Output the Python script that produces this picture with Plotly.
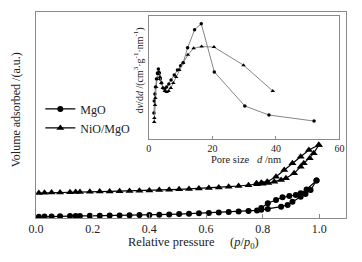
import plotly.graph_objects as go

# ---- main isotherm data (relative pressure, volume adsorbed a.u.) ----
p_mgo_ads = [0.01,0.03,0.055,0.085,0.12,0.14,0.155,0.19,0.225,0.26,0.295,0.33,0.365,0.40,
             0.435,0.47,0.505,0.54,0.575,0.61,0.645,0.68,0.715,0.75,0.78,0.795,0.818,
             0.865,0.888,0.905,0.934,0.951,0.969,0.99]
v_mgo_ads = [1.2,1.4,1.5,1.7,1.9,2.0,2.1,2.2,2.3,2.5,2.6,2.7,2.9,3.0,
             3.3,3.6,3.9,4.3,4.7,5.1,5.5,5.9,6.4,6.9,7.6,8.2,9.0,
             11.3,13.0,16.3,21.3,24.0,28.0,37.5]
p_mgo_des = [0.99,0.955,0.934,0.917,0.894,0.87,0.847,0.818,0.795]
v_mgo_des = [37.5,28.5,24.7,23.0,22.0,20.7,18.0,14.7,10.0]

p_nio_ads = [0.01,0.03,0.055,0.085,0.12,0.14,0.155,0.19,0.225,0.26,0.295,0.33,0.365,0.40,
             0.435,0.47,0.505,0.54,0.575,0.61,0.645,0.68,0.715,0.75,0.78,0.80,0.82,
             0.841,0.865,0.882,0.911,0.934,0.945,0.966,0.98,0.998]
v_nio_ads = [25.0,25.2,25.4,25.6,25.8,25.9,26.0,26.2,26.4,26.6,26.8,27.0,27.3,27.6,
             27.9,28.3,28.7,29.1,29.5,30.0,30.6,31.3,32.0,32.8,33.7,34.3,35.0,
             36.3,38.0,39.7,44.7,51.3,54.7,59.7,64.7,73.0]
p_nio_des = [0.998,0.963,0.934,0.905,0.876,0.847,0.816,0.795,0.778]
v_nio_des = [73.0,68.0,61.3,54.7,48.0,41.3,36.3,35.3,34.7]

# ---- inset pore size distribution ----
d_mgo = [1.6,1.7,1.9,2.1,2.4,2.7,3.0,3.3,3.6,4.0,4.5,5.0,5.6,6.3,7.0,8.0,9.0,10.0,10.8,
         12.2,14.4,16.5,20.6,30.2,37.8,52.0]
dv_mgo = [26,38,45,52,60,66,70,66,60,56,51,50,52,55,59,64,69,73,76,
          91,109,115,67,33,24,18]
d_nio = [1.7,1.75,1.95,2.05,2.3,2.6,2.9,3.2,3.5,3.9,4.4,5.0,5.6,6.2,6.9,7.7,8.6,9.6,10.8,
         12.3,14.1,16.6,20.5,29.8,39.0]
dv_nio = [17,21,34,41,52,60,65,67,62,56,51,48,47,48,51,56,62,69,76,
          84,90.5,92.3,91.7,73.7,48]

x_ticks = [0.0, 0.2, 0.4, 0.6, 0.8, 1.0]
x_ticklabels = ["0.0", "0.2", "0.4", "0.6", "0.8", "1.0"]
d_ticks = [0, 20, 40, 60]

SERIF = "Liberation Serif"
FRAME = "#8a8a8a"
TXT = "#222222"

fig = go.Figure()

# main traces
fig.add_trace(go.Scatter(x=p_mgo_ads, y=v_mgo_ads, mode="lines+markers", name="MgO",
                         line=dict(color="black", width=1.2),
                         marker=dict(symbol="circle", size=6, color="black")))
fig.add_trace(go.Scatter(x=p_mgo_des, y=v_mgo_des, mode="lines+markers", showlegend=False,
                         line=dict(color="black", width=1.2),
                         marker=dict(symbol="circle", size=6, color="black")))
fig.add_trace(go.Scatter(x=p_nio_ads, y=v_nio_ads, mode="lines+markers", name="NiO/MgO",
                         line=dict(color="black", width=1.2),
                         marker=dict(symbol="triangle-up", size=7, color="black")))
fig.add_trace(go.Scatter(x=p_nio_des, y=v_nio_des, mode="lines+markers", showlegend=False,
                         line=dict(color="black", width=1.2),
                         marker=dict(symbol="triangle-up", size=7, color="black")))

# inset traces
fig.add_trace(go.Scatter(x=d_mgo, y=dv_mgo, mode="lines+markers", showlegend=False,
                         xaxis="x2", yaxis="y2",
                         line=dict(color="#777777", width=0.9),
                         marker=dict(symbol="circle", size=3.5, color="black")))
fig.add_trace(go.Scatter(x=d_nio, y=dv_nio, mode="lines+markers", showlegend=False,
                         xaxis="x2", yaxis="y2",
                         line=dict(color="#777777", width=0.9),
                         marker=dict(symbol="triangle-up", size=4, color="black")))

fig.update_layout(
    width=346, height=246, autosize=False,
    margin=dict(l=28, r=3, t=4, b=36),
    paper_bgcolor="white", plot_bgcolor="white",
    font=dict(family=SERIF, size=12, color=TXT),
    xaxis=dict(range=[0, 1.094], tickvals=x_ticks, ticktext=x_ticklabels,
               ticks="inside", ticklen=4, tickcolor=FRAME,
               showline=True, linecolor=FRAME, linewidth=1, mirror=True,
               showgrid=False, zeroline=False,
               tickfont=dict(family=SERIF, size=12, color=TXT)),
    yaxis=dict(range=[0, 206], showticklabels=False, ticks="",
               showline=True, linecolor=FRAME, linewidth=1, mirror=True,
               showgrid=False, zeroline=False),
    xaxis2=dict(domain=[0.364, 0.979], anchor="y2", range=[0, 60], tickvals=d_ticks,
                ticks="inside", ticklen=3, tickcolor=FRAME,
                showline=True, linecolor=FRAME, linewidth=1, mirror=True,
                showgrid=False, zeroline=False,
                tickfont=dict(family=SERIF, size=10, color=TXT)),
    yaxis2=dict(domain=[0.383, 0.982], anchor="x2", range=[0, 123],
                showticklabels=False, ticks="",
                showline=True, linecolor=FRAME, linewidth=1, mirror=True,
                showgrid=False, zeroline=False),
    legend=dict(x=0.014, y=0.6, xanchor="left", yanchor="top",
                bgcolor="rgba(0,0,0,0)", borderwidth=0,
                font=dict(family=SERIF, size=12, color=TXT),
                itemwidth=30),
    showlegend=True,
)

def note(text, px, py, size, angle=0):
    fig.add_annotation(text=text, xref="paper", yref="paper",
                       x=(px - 36) / 315, y=(218 - py) / 206,
                       xanchor="center", yanchor="middle", textangle=angle,
                       showarrow=False, font=dict(family=SERIF, size=size, color=TXT))

note("Volume adsorbed /(a.u.)", 16, 110, 12, -90)
note("Relative pressure&nbsp;&nbsp;&nbsp;&nbsp;&nbsp;(<i>p</i>/<i>p</i><sub>0</sub>)", 196, 243, 12.5)
note("Pore size&nbsp;&nbsp;&nbsp;<i>d</i> /nm", 249, 159, 10.5)
note("d<i>v</i>/d<i>d</i> /(cm<sup>3</sup>·g<sup>-1</sup>·nm<sup>-1</sup>)", 140, 70, 10, -90)

fig.write_html("out.html")
